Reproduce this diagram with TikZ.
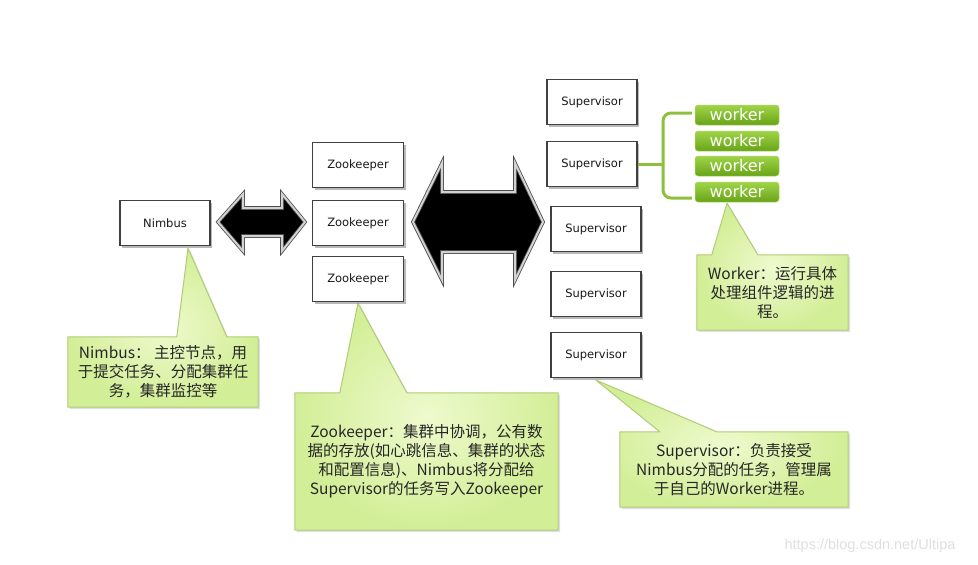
\documentclass[tikz,border=0pt]{standalone}
\usepackage{fontspec}
\setmainfont{DejaVu Sans}
\newfontfamily\cjk{Noto Sans CJK SC}
\newfontfamily\labelfont{DejaVu Sans}
\newfontfamily\markfont{Liberation Sans}
\usepackage{xcolor}
\usepackage{tikz}
\usetikzlibrary{positioning,calc,shadows,backgrounds}

\definecolor{noteedge}{RGB}{176,204,118}
\definecolor{noteinner}{RGB}{238,250,206}
\definecolor{noteouter}{RGB}{210,238,150}
\definecolor{bracegreen}{RGB}{142,192,62}
\definecolor{workertop}{RGB}{160,212,72}
\definecolor{workerbot}{RGB}{104,164,24}

\begin{document}
\begin{tikzpicture}[x=1pt, y=-1pt,
    server/.style={draw=black!75, line width=1.2pt, fill=white, inner sep=0pt,
        minimum width=90, minimum height=45, text=black!90,
        font=\labelfont\fontsize{11.5}{13}\selectfont,
        drop shadow={shadow xshift=2pt, shadow yshift=-2pt, opacity=0.55}},
    worker/.style={rounded corners=3pt, top color=workertop, bottom color=workerbot,
        draw=workertop!85!white, line width=0.5pt, inner sep=0pt,
        minimum width=84, minimum height=20, text=white,
        font=\labelfont\fontsize{16}{18}\selectfont},
    note/.style={inner sep=0pt, align=center, text=black!85,
        font=\cjk\fontsize{15.5}{19}\selectfont},
    notebg/.style={draw=noteedge, line width=1pt, inner color=noteinner,
        outer color=noteouter, line join=round,
        drop shadow={shadow xshift=2pt, shadow yshift=-2pt, opacity=0.25}},
    fatarrow/.style={fill=black, draw=black!70, line width=0.8pt,
        double=gray!35, double distance=2pt, line join=miter},
    brace/.style={draw=bracegreen, line width=3pt, rounded corners=8pt}]

    \useasboundingbox (0,0) rectangle (978,565);

    % Nimbus and the Zookeeper cluster
    \node[server] (nimbus) at (165,223) {Nimbus};
    \node[server, minimum width=91] (zk1) at (358,165) {Zookeeper};
    \node[server, minimum width=91] (zk2) at (358,223) {Zookeeper};
    \node[server, minimum width=91] (zk3) at (358,279) {Zookeeper};

    % Supervisors
    \node[server] (sup1) at (592,102) {Supervisor};
    \node[server] (sup2) at (592,164) {Supervisor};
    \node[server] (sup3) at (596,229) {Supervisor};
    \node[server] (sup4) at (596,294) {Supervisor};
    \node[server] (sup5) at (596,355) {Supervisor};

    % Workers
    \foreach \i/\y in {1/115,2/141,3/166,4/192}
        \node[worker] (w\i) at (737,\y) {worker};

    % Fat double arrows
    \draw[fatarrow] (218,222) -- (243,194) -- (243,208) -- (282,208) -- (282,194)
        -- (305,222) -- (282,251) -- (282,236) -- (243,236) -- (243,251) -- cycle;
    \draw[fatarrow] (413,222) -- (442,163) -- (442,192) -- (515,192) -- (515,163)
        -- (543,222) -- (515,280) -- (515,252) -- (442,252) -- (442,280) -- cycle;

    % Brace from Supervisor to its workers
    \coordinate (brx) at (663,164);
    \draw[brace] ([xshift=-3pt,yshift=2pt]w1.west) -| (brx)
        |- ([xshift=-3pt,yshift=-6pt]w4.west);
    \draw[brace] (sup2.east) -- (brx);

    % Callout texts
    \node[note, minimum width=190, minimum height=70] (nimbusnote) at (163,372)
        {Nimbus： 主控节点，用\\于提交任务、分配集群任\\务，集群监控等};
    \node[note, minimum width=263, minimum height=137] (zknote) at (426.5,461.5)
        {Zookeeper：集群中协调，公有数\\据的存放(如心跳信息、集群的状态\\和配置信息)、Nimbus将分配给\\Supervisor的任务写入Zookeeper};
    \node[note, minimum width=228, minimum height=75] (supnote) at (734,469.5)
        {Supervisor：负责接受\\Nimbus分配的任务，管理属\\于自己的Worker进程。};
    \node[note, minimum width=151, minimum height=75] (workernote) at (772.5,292.5)
        {Worker：运行具体\\处理组件逻辑的进\\程。};

    \begin{pgfonlayer}{background}
        \path[notebg] (nimbusnote.north west) -- ($(nimbusnote.north west)+(109,0)$)
            -- ([xshift=23pt,yshift=-2pt]nimbus.south) -- ($(nimbusnote.north west)+(159,0)$)
            -- (nimbusnote.north east) -- (nimbusnote.south east) -- (nimbusnote.south west) -- cycle;
        \path[notebg] (zknote.north west) -- ($(zknote.north west)+(45,0)$)
            -- ([yshift=-1pt]zk3.south) -- ($(zknote.north west)+(112,0)$)
            -- (zknote.north east) -- (zknote.south east) -- (zknote.south west) -- cycle;
        \path[notebg] (supnote.north west) -- ($(supnote.north west)+(40,0)$)
            -- ([yshift=-2pt]sup5.south) -- ($(supnote.north west)+(97,0)$)
            -- (supnote.north east) -- (supnote.south east) -- (supnote.south west) -- cycle;
        \path[notebg] (workernote.north west) -- ($(workernote.north west)+(15,0)$)
            -- ([xshift=-10pt,yshift=-1pt]w4.south) -- ($(workernote.north west)+(61,0)$)
            -- (workernote.north east) -- (workernote.south east) -- (workernote.south west) -- cycle;
    \end{pgfonlayer}

    % watermark
    \node[text=gray!25, font=\markfont\fontsize{14.5}{16}\selectfont, inner sep=0pt]
        (mark) at (870,546) {https://blog.csdn.net/Ultipa};
\end{tikzpicture}
\end{document}
